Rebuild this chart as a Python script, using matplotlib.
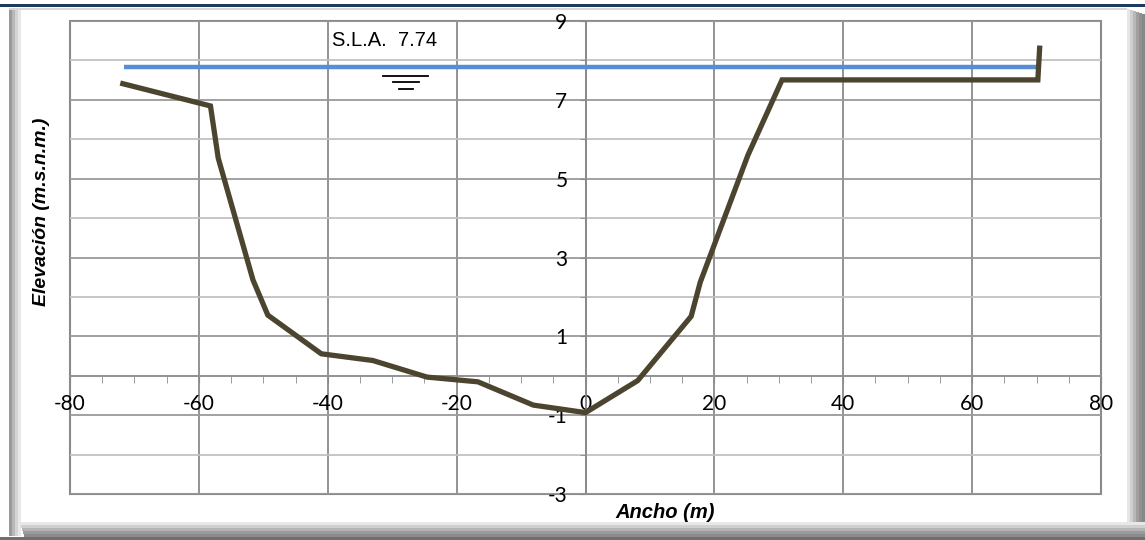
import matplotlib
matplotlib.use("Agg")
import matplotlib.pyplot as plt
from matplotlib.patches import Rectangle
from matplotlib.ticker import FixedLocator, MultipleLocator

plt.rcParams['axes.unicode_minus'] = False

# Cross-section data
ancho = [-72.2, -58.2, -57.0, -51.6, -49.3, -41.0, -33.0, -24.6, -16.7,
         -8.1, 0.0, 8.1, 16.4, 17.8, 25.2, 30.5, 70.2, 70.5]
elevacion = [7.42, 6.84, 5.52, 2.43, 1.54, 0.56, 0.39, -0.03, -0.15,
             -0.74, -0.93, -0.12, 1.51, 2.37, 5.59, 7.50, 7.50, 8.37]

# Water surface
agua_x = [-71.6, 70.0]
agua_nivel = 7.82
sla_label = 'S.L.A.  7.74'

y_major = [-3, -1, 1, 3, 5, 7, 9]
y_minor = [-2, 0, 2, 4, 6, 8]

fig = plt.figure(figsize=(11.45, 5.4), dpi=100)
fig.patch.set_facecolor('white')

# Excel-like bevel frame
W, H = 1145, 540
def frect(x, y, w, h, color, alpha=1.0):
    fig.patches.append(Rectangle((x / W, 1 - (y + h) / H), w / W, h / H,
                                 transform=fig.transFigure, color=color,
                                 alpha=alpha, zorder=0, lw=0))

frect(0, 4, W, 2.5, '#1f3b63')
# right shadow
for i, c in enumerate(['#e6e6e6', '#d0d0d0', '#b8b8b8', '#a0a0a0', '#909090', '#888888']):
    frect(1127 + i * 3, 9 + i, 3, 530 - i, c)
# bottom shadow
for i, c in enumerate(['#e8e8e8', '#cfcfcf', '#b4b4b4', '#9a9a9a', '#8c8c8c']):
    frect(20 + i, 522 + i * 3, 1125 - i, 3, c)
frect(0, 537, W, 3, '#6f6f6f')
# left bevel
for i, c in enumerate(['#9a9a9a', '#b8b8b8', '#d4d4d4', '#e8e8e8']):
    frect(9 + i * 3, 9, 3, 527, c)
frect(9, 8, 1118, 1.5, '#d8d8d8')

ax = fig.add_axes([70 / W, 1 - 494.3 / H, 1031 / W, 473.6 / H])
ax.set_xlim(-80, 80)
ax.set_ylim(-3, 9)

ax.plot(agua_x, [agua_nivel, agua_nivel], color='#558ed5', lw=3.2,
        solid_capstyle='butt', zorder=4)
ax.plot(ancho, elevacion, color='#4b4530', lw=3.8, solid_joinstyle='miter',
        solid_capstyle='butt', zorder=5)

# water level symbol
sx = -27.9
for dy, half in [(0.22, 3.5), (0.37, 2.0), (0.55, 1.1)]:
    ax.plot([sx - half, sx + half], [agua_nivel - dy] * 2, color='black',
            lw=1.3, zorder=6)
ax.text(-39.3, 8.51, sla_label, fontsize=14.5, family='Liberation Sans',
        ha='left', va='center', zorder=6)

# axes crossing at zero
for s in ['top', 'right']:
    ax.spines[s].set_visible(False)
ax.spines['left'].set_position(('data', 0))
ax.spines['bottom'].set_position(('data', 0))
ax.spines['left'].set_color('#8a8a8a')
ax.spines['bottom'].set_color('#8a8a8a')
ax.spines['left'].set_linewidth(1.2)
ax.spines['bottom'].set_linewidth(1.2)
ax.add_patch(Rectangle((0, 0), 1, 1, transform=ax.transAxes, fill=False,
                       edgecolor='#8a8a8a', lw=1.5, zorder=0.3, clip_on=False))

ax.xaxis.set_major_locator(MultipleLocator(20))
ax.xaxis.set_minor_locator(MultipleLocator(5))
ax.yaxis.set_major_locator(FixedLocator(y_major))
ax.yaxis.set_minor_locator(FixedLocator(y_minor))
ax.tick_params(axis='x', which='major', length=5, color='#8a8a8a', pad=8,
               labelsize=15)
ax.tick_params(axis='x', which='minor', length=5, color='#8a8a8a')
ax.tick_params(axis='y', which='both', length=4, color='#8a8a8a', pad=9,
               labelsize=15)
for lab in ax.get_xticklabels() + ax.get_yticklabels():
    lab.set_family('Lato')

ax.grid(True, axis='x', which='major', color='#8a8a8a', lw=1.3, zorder=0)
ax.grid(True, axis='y', which='major', color='#9a9a9a', lw=1.3, zorder=0)
ax.grid(True, axis='y', which='minor', color='#c2c2c2', lw=1.3, zorder=0)
ax.set_axisbelow(True)

fig.text(665 / W, 1 - 512 / H, 'Ancho (m)', fontsize=14.5,
         family='Liberation Sans', weight='bold', style='italic',
         ha='center', va='center')
fig.text(42 / W, 1 - 212 / H, 'Elevación (m.s.n.m.)', fontsize=14,
         family='Liberation Sans', weight='bold', style='italic',
         ha='center', va='center', rotation=90)

fig.savefig('out.png', dpi=100)
